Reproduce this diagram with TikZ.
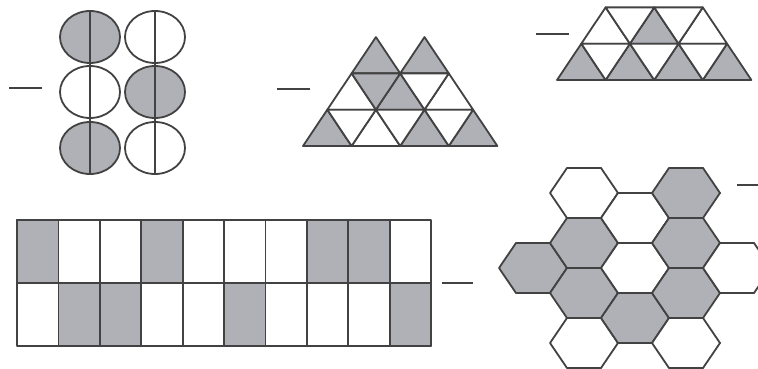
\documentclass[tikz,border=0pt]{standalone}
\usepackage{tikz}
\usetikzlibrary{calc}
\definecolor{shade}{RGB}{176,177,182}
\definecolor{ink}{RGB}{66,66,66}
\newcommand{\triw}{48.6}
\newcommand{\trih}{36.3}

\begin{document}
\begin{tikzpicture}[x=1pt, y=-1pt, line join=round,
    lightcell/.style={draw=ink, line width=1.8pt, fill=white},
    darkcell/.style={lightcell, fill=shade},
    dashmark/.style={draw=ink, line width=2pt}]
  \useasboundingbox (0,0) rectangle (758,369);

  % ovals cut in half
  \foreach \x/\y/\f in {90/37/darkcell, 90/92/lightcell, 90/148/darkcell,
                        155/37/lightcell, 155/92/darkcell, 155/148/lightcell}
    \draw[\f] (\x,\y) ellipse[x radius=30, y radius=26];
  \foreach \x in {90,155}
    \draw[lightcell] (\x,11) -- (\x,174);
  \draw[dashmark] (9,88) -- (42,88);

  % triangles with two peaks
  \begin{scope}[shift={(303,146)}]
    \foreach \r/\i/\f in {0/0/darkcell, 0/1/lightcell, 0/2/darkcell, 0/3/darkcell,
                          1/0/lightcell, 1/1/darkcell, 1/2/lightcell,
                          2/0/darkcell, 2/1/darkcell}
      \draw[\f] ({(\r/2+\i)*\triw}, {-\r*\trih}) -- ++(\triw,0) -- ++(-\triw/2,-\trih) -- cycle;
    \foreach \r/\i/\f in {0/0/lightcell, 0/1/lightcell, 0/2/lightcell,
                          1/0/darkcell, 1/1/lightcell}
      \draw[\f] ({(\r/2+\i+0.5)*\triw}, {-(\r+1)*\trih}) -- ++(\triw,0) -- ++(-\triw/2,\trih) -- cycle;
  \end{scope}
  \draw[dashmark] (277,89) -- (310,89);

  % trapezoid of triangles
  \begin{scope}[shift={(557,80)}]
    \foreach \r/\i/\f in {0/0/darkcell, 0/1/darkcell, 0/2/darkcell, 0/3/darkcell,
                          1/0/lightcell, 1/1/darkcell, 1/2/lightcell}
      \draw[\f] ({(\r/2+\i)*\triw}, {-\r*\trih}) -- ++(\triw,0) -- ++(-\triw/2,-\trih) -- cycle;
    \foreach \r/\i in {0/0, 0/1, 0/2, 1/0, 1/1}
      \draw[lightcell] ({(\r/2+\i+0.5)*\triw}, {-(\r+1)*\trih}) -- ++(\triw,0) -- ++(-\triw/2,\trih) -- cycle;
  \end{scope}
  \draw[dashmark] (536,34) -- (569,34);

  % strip of two rows
  \foreach \i in {0,...,9}
    \draw[lightcell] ({17+\i*41.4},220) rectangle ++(41.4,63)
                     ({17+\i*41.4},283) rectangle ++(41.4,63);
  \foreach \i in {0,3,7,8}
    \draw[darkcell] ({17+\i*41.4},220) rectangle ++(41.4,63);
  \foreach \i in {1,2,5,9}
    \draw[darkcell] ({17+\i*41.4},283) rectangle ++(41.4,63);
  \draw[dashmark] (442,283) -- (473,283);

  % hexagons
  \foreach \x/\y/\f in {533/268/darkcell,
                        584/193/lightcell, 584/243/darkcell, 584/293/darkcell, 584/343/lightcell,
                        635/218/lightcell, 635/268/lightcell, 635/318/darkcell,
                        686/193/darkcell, 686/243/darkcell, 686/293/darkcell, 686/343/lightcell,
                        737/268/lightcell}
    \draw[\f] (\x,\y) ++(-34,0) -- ++(17,-25) -- ++(34,0) -- ++(17,25)
              -- ++(-17,25) -- ++(-34,0) -- cycle;
  \draw[dashmark] (737,185) -- (758,185);
\end{tikzpicture}
\end{document}
